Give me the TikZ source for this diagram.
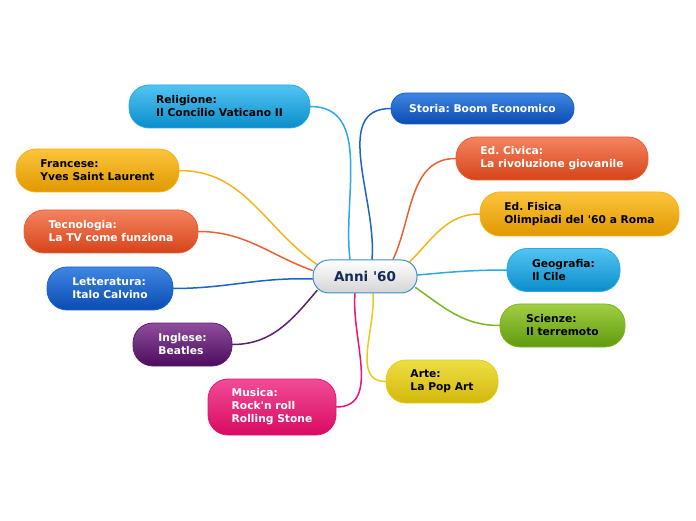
\documentclass[tikz,border=0pt]{standalone}
\usepackage{fontspec}
\setmainfont{DejaVu Sans}
\usetikzlibrary{backgrounds}
\frenchspacing

% colours of the branches
\definecolor{skyT}{HTML}{52C4F2}
\definecolor{skyB}{HTML}{0A8DCB}
\definecolor{skyL}{HTML}{2AAAE2}
\definecolor{sunT}{HTML}{FCC43C}
\definecolor{sunB}{HTML}{E09800}
\definecolor{sunL}{HTML}{F7B515}
\definecolor{redT}{HTML}{F4835F}
\definecolor{redB}{HTML}{D6441A}
\definecolor{redL}{HTML}{EC5F30}
\definecolor{bluT}{HTML}{3F86E2}
\definecolor{bluB}{HTML}{0A4BB2}
\definecolor{bluL}{HTML}{1C63CC}
\definecolor{purT}{HTML}{8E4E9C}
\definecolor{purB}{HTML}{4C0C5E}
\definecolor{purL}{HTML}{5E1E72}
\definecolor{pnkT}{HTML}{F24C96}
\definecolor{pnkB}{HTML}{D80A62}
\definecolor{pnkL}{HTML}{E8157A}
\definecolor{grnT}{HTML}{A0CE44}
\definecolor{grnB}{HTML}{609A0E}
\definecolor{grnL}{HTML}{7CB61E}
\definecolor{ylwT}{HTML}{EEDE44}
\definecolor{ylwB}{HTML}{D2B80C}
\definecolor{ylwL}{HTML}{E4CC1C}
\definecolor{rootL}{HTML}{3A8FD0}
\definecolor{rootT}{HTML}{152A55}

\tikzset{
  topic/.style={rounded corners=20pt,minimum height=43pt,inner xsep=0pt,
    align=left,line width=0.8pt,font=\bfseries\fontsize{10.7}{13}\selectfont},
  skytopic/.style={topic,top color=skyT,bottom color=skyB,draw=skyL,text=black},
  suntopic/.style={topic,top color=sunT,bottom color=sunB,draw=sunL,text=black},
  redtopic/.style={topic,top color=redT,bottom color=redB,draw=redL,text=white},
  blutopic/.style={topic,top color=bluT,bottom color=bluB,draw=bluL,text=white},
  purtopic/.style={topic,top color=purT,bottom color=purB,draw=purL,text=white},
  pnktopic/.style={topic,top color=pnkT,bottom color=pnkB,draw=pnkL,text=white},
  grntopic/.style={topic,top color=grnT,bottom color=grnB,draw=grnL,text=black},
  ylwtopic/.style={topic,top color=ylwT,bottom color=ylwB,draw=ylwL,text=black},
  link/.style={line width=1.5pt,line cap=round}
}

\begin{document}
\begin{tikzpicture}[x=1pt,y=1pt]
  \useasboundingbox (0,0) rectangle (696,520);

  % central topic
  \node[rounded corners=16pt,minimum width=104pt,minimum height=33pt,
        top color=white,bottom color=black!17,draw=rootL,line width=1pt,
        text=rootT,font=\bfseries\fontsize{13.5}{16}\selectfont] (anni) at (365,243.5) {Anni \textquotesingle60};

  % left side
  \node[skytopic,minimum width=181pt] (religione) at (219.5,413.5) {Religione:\\Il Concilio Vaticano II};
  \node[suntopic,minimum width=163pt] (francese) at (97.5,349.5) {Francese:\\Yves Saint Laurent};
  \node[redtopic,minimum width=174pt] (tecnologia) at (111,288.5) {Tecnologia:\\La TV come funziona};
  \node[blutopic,minimum width=126pt] (letteratura) at (110,231.5) {Letteratura:\\Italo Calvino};
  \node[purtopic,minimum width=99pt] (inglese) at (182.5,175.5) {Inglese:\\Beatles};
  \node[pnktopic,minimum width=128pt,minimum height=56pt] (musica) at (272,113) {Musica:\\Rock\textquotesingle n roll\\Rolling Stone};

  % right side
  \node[blutopic,minimum width=183pt,minimum height=31pt,rounded corners=15pt] (storia) at (482.5,411.5) {Storia: Boom Economico};
  \node[redtopic,minimum width=192pt] (civica) at (552,361.5) {Ed. Civica:\\La rivoluzione giovanile};
  \node[suntopic,minimum width=199pt,minimum height=44pt] (fisica) at (579.5,306) {Ed. Fisica\\Olimpiadi del \textquotesingle60 a Roma};
  \node[skytopic,minimum width=113pt] (geografia) at (563.5,250) {Geografia:\\Il Cile};
  \node[grntopic,minimum width=125pt] (scienze) at (562.5,194.5) {Scienze:\\Il terremoto};
  \node[ylwtopic,minimum width=112pt] (arte) at (442,138.5) {Arte:\\La Pop Art};

  \begin{pgfonlayer}{background}
    \draw[link,skyL] ([xshift=-15pt]anni.north) to[out=97,in=0] (religione.east);
    \draw[link,sunL] ([xshift=-48pt,yshift=-5pt]anni.north) to[out=145,in=0] (francese.east);
    \draw[link,redL] ([yshift=6pt]anni.west) to[out=160,in=0] (tecnologia.east);
    \draw[link,bluL] ([yshift=-2.5pt]anni.west) to[out=178,in=0] (letteratura.east);
    \draw[link,purL] ([xshift=-48pt,yshift=3pt]anni.south) to[out=-130,in=0] (inglese.east);
    \draw[link,pnkL] ([xshift=-10pt]anni.south) to[out=-95,in=0] (musica.east);
    \draw[link,bluL] ([xshift=7pt]anni.north) to[out=85,in=180] (storia.west);
    \draw[link,redL] ([xshift=28pt]anni.north) to[out=65,in=180] (civica.west);
    \draw[link,sunL] ([xshift=45pt,yshift=-2pt]anni.north) to[out=45,in=180] (fisica.west);
    \draw[link,skyL] ([yshift=1.5pt]anni.east) to[out=5,in=180] (geografia.west);
    \draw[link,grnL] ([xshift=-2pt,yshift=-11pt]anni.east) to[out=-35,in=180] (scienze.west);
    \draw[link,ylwL] ([xshift=8pt]anni.south) to[out=-85,in=180] (arte.west);
  \end{pgfonlayer}
\end{tikzpicture}
\end{document}
